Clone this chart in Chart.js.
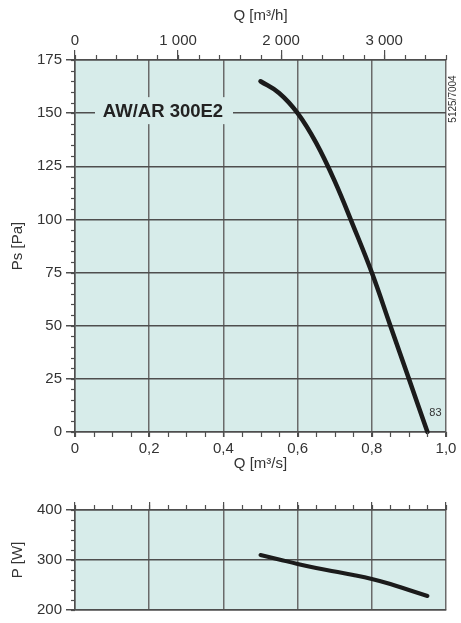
<!DOCTYPE html>
<html>
<head>
<meta charset="utf-8">
<script src="https://cdn.jsdelivr.net/npm/chart.js@4"></script>
<style>
  body { margin: 0; background: #fff; }
  #wrap { position: relative; width: 461px; height: 623px; }
  canvas { position: absolute; left: 0; }
  #psChart { top: 0; }
  #powerChart { top: 480px; }
</style>
</head>
<body>
<div id="wrap">
  <canvas id="psChart" width="461" height="480"></canvas>
  <canvas id="powerChart" width="461" height="143"></canvas>
</div>
<script>
// AW/AR 300E2 fan curve
const flowM3s = [0.5, 0.55, 0.6, 0.65, 0.7, 0.75, 0.8, 0.85, 0.9, 0.95];
const staticPressure = [165, 159.5, 150, 136, 118, 97, 75, 50, 25, 0];
const powerW = [310, 301, 292, 284, 277, 270, 262, 252, 240, 228];

const flowTicksM3s = [0, 0.2, 0.4, 0.6, 0.8, 1.0];
const flowTicksM3h = [0, 1000, 2000, 3000];
const psTicks = [0, 25, 50, 75, 100, 125, 150, 175];
const powerTicks = [200, 300, 400];

const modelName = "AW/AR 300E2";
const curveNote = "83";
const drawingCode = "5125/7004";

const plotBg = "#d7ecea";
const gridDark = "#4e4e4e";
const gridGray = "#6a6a6a";
const textColor = "#333";
const fontFamily = "'Liberation Sans', Arial, sans-serif";

Chart.defaults.font.family = fontFamily;
Chart.defaults.color = textColor;

const toPoints = (xs, ys) => xs.map((x, i) => ({ x: x, y: ys[i] }));
const fixedTicks = arr => scale => { scale.ticks = arr.map(v => ({ value: v })); };
const commaLabel = v => v === 0 ? "0" : v.toFixed(1).replace(".", ",");
const spaceLabel = v => v >= 1000 ? String(v).replace(/\B(?=(\d{3})+(?!\d))/g, " ") : String(v);

// fills plot background and draws short minor ticks along the axes
const plotExtras = {
  id: "plotExtras",
  beforeDraw(chart) {
    const a = chart.chartArea;
    const ctx = chart.ctx;
    ctx.save();
    ctx.fillStyle = plotBg;
    ctx.fillRect(a.left, a.top, a.right - a.left, a.bottom - a.top);
    ctx.restore();
  },
  afterDraw(chart, args, opts) {
    const a = chart.chartArea;
    const ctx = chart.ctx;
    ctx.save();
    ctx.strokeStyle = gridDark;
    ctx.lineWidth = 1.2;
    (opts.minor || []).forEach(m => {
      const sc = chart.scales[m.scale];
      const n = Math.round((sc.max - sc.min) / m.step);
      for (let i = 0; i <= n; i++) {
        const p = Math.round(sc.getPixelForValue(sc.min + i * m.step)) + 0.5;
        ctx.beginPath();
        if (m.side === "left") { ctx.moveTo(a.left - m.len, p); ctx.lineTo(a.left, p); }
        if (m.side === "top") { ctx.moveTo(p, a.top - m.len); ctx.lineTo(p, a.top); }
        if (m.side === "bottom") { ctx.moveTo(p, a.bottom); ctx.lineTo(p, a.bottom + m.len); }
        ctx.stroke();
      }
    });
    if (opts.after) opts.after(chart, ctx);
    ctx.restore();
  }
};

function fixSize(w, h) {
  return scale => {
    if (w !== null) scale.width = w;
    if (h !== null) scale.height = h;
  };
}

const lineStyle = {
  borderColor: "#1b1b1b",
  borderWidth: 4.5,
  borderCapStyle: "round",
  pointRadius: 0,
  fill: false,
  tension: 0.4
};

new Chart(document.getElementById("psChart"), {
  type: "line",
  data: {
    datasets: [Object.assign({ data: toPoints(flowM3s, staticPressure), clip: 3 }, lineStyle)]
  },
  options: {
    responsive: false,
    animation: false,
    devicePixelRatio: 1,
    layout: { padding: { left: 0, right: 15, top: 0, bottom: 0 } },
    plugins: {
      legend: { display: false },
      tooltip: { enabled: false },
      plotExtras: {
        minor: [
          { scale: "y", step: 5, len: 4, side: "left" },
          { scale: "x", step: 0.05, len: 5, side: "bottom" },
          { scale: "xTop", step: 200, len: 5, side: "top" }
        ],
        after(chart, ctx) {
          const a = chart.chartArea;
          const y150 = chart.scales.y.getPixelForValue(150);
          // model name on a plot coloured box over the grid
          ctx.fillStyle = plotBg;
          ctx.fillRect(a.left + 20, y150 - 16, 138, 27);
          ctx.fillStyle = "#222";
          ctx.font = "bold 18.5px " + fontFamily;
          ctx.textAlign = "center";
          ctx.textBaseline = "middle";
          ctx.fillText(modelName, a.left + 88, y150 - 1);
          // rpm note at the curve end
          ctx.font = "11px " + fontFamily;
          ctx.textAlign = "left";
          ctx.fillStyle = textColor;
          ctx.fillText(curveNote, chart.scales.x.getPixelForValue(0.955), chart.scales.y.getPixelForValue(9));
          // drawing code on the right margin
          ctx.save();
          ctx.translate(a.right + 7, a.top + 39);
          ctx.rotate(-Math.PI / 2);
          ctx.font = "10px " + fontFamily;
          ctx.textAlign = "center";
          ctx.fillText(drawingCode, 0, 0);
          ctx.restore();
        }
      }
    },
    scales: {
      x: {
        type: "linear",
        position: "bottom",
        min: 0,
        max: 1,
        afterBuildTicks: fixedTicks(flowTicksM3s),
        afterFit: fixSize(null, 48),
        ticks: { callback: commaLabel, font: { size: 15 }, padding: 3, maxRotation: 0, color: textColor },
        grid: { color: gridGray, lineWidth: 1.5, tickLength: 5, tickColor: gridDark },
        border: { color: gridDark, width: 1.5 },
        title: { display: true, text: "Q [m³/s]", font: { size: 15 }, color: textColor, padding: { top: 0, bottom: 7 } }
      },
      xTop: {
        type: "linear",
        position: "top",
        min: 0,
        max: 3600,
        afterBuildTicks: fixedTicks(flowTicksM3h),
        afterFit: fixSize(null, 60),
        ticks: { callback: spaceLabel, font: { size: 15 }, padding: 0, maxRotation: 0, color: textColor },
        grid: { drawOnChartArea: false, tickLength: 10, color: gridDark, lineWidth: 1.2 },
        border: { color: gridDark, width: 1.5 },
        title: { display: true, text: "Q [m³/h]", font: { size: 15 }, color: textColor, padding: { top: 7, bottom: 0 } }
      },
      y: {
        type: "linear",
        min: 0,
        max: 175,
        afterBuildTicks: fixedTicks(psTicks),
        afterFit: fixSize(75, null),
        ticks: { font: { size: 15 }, padding: 4, color: textColor },
        grid: { color: gridDark, lineWidth: 1.5, tickLength: 9 },
        border: { color: gridDark, width: 1.5 },
        title: { display: true, text: "Ps [Pa]", font: { size: 15 }, color: textColor, padding: { top: 9, bottom: 0 } }
      }
    }
  },
  plugins: [plotExtras]
});

new Chart(document.getElementById("powerChart"), {
  type: "line",
  data: {
    datasets: [Object.assign({ data: toPoints(flowM3s, powerW) }, lineStyle, { borderWidth: 4 })]
  },
  options: {
    responsive: false,
    animation: false,
    devicePixelRatio: 1,
    layout: { padding: { left: 0, right: 15, top: 0, bottom: 0 } },
    plugins: {
      legend: { display: false },
      tooltip: { enabled: false },
      plotExtras: {
        minor: [
          { scale: "y", step: 20, len: 4, side: "left" },
          { scale: "xTop", step: 0.05, len: 5, side: "top" }
        ]
      }
    },
    scales: {
      x: {
        type: "linear",
        position: "bottom",
        min: 0,
        max: 1,
        afterBuildTicks: fixedTicks(flowTicksM3s),
        afterFit: fixSize(null, 9),
        ticks: { display: false },
        grid: { color: gridGray, lineWidth: 1.5, drawTicks: false },
        border: { color: gridDark, width: 1.5 }
      },
      xTop: {
        type: "linear",
        position: "top",
        min: 0,
        max: 1,
        afterBuildTicks: fixedTicks(flowTicksM3s),
        afterFit: fixSize(null, 30),
        ticks: { display: false },
        grid: { drawOnChartArea: false, tickLength: 8, color: gridDark, lineWidth: 1.2 },
        border: { color: gridDark, width: 1.5 }
      },
      y: {
        type: "linear",
        min: 200,
        max: 400,
        afterBuildTicks: fixedTicks(powerTicks),
        afterFit: fixSize(75, null),
        ticks: { font: { size: 15 }, padding: 4, color: textColor },
        grid: { color: gridDark, lineWidth: 1.5, tickLength: 9 },
        border: { color: gridDark, width: 1.5 },
        title: { display: true, text: "P [W]", font: { size: 15 }, color: textColor, padding: { top: 9, bottom: 0 } }
      }
    }
  },
  plugins: [plotExtras]
});
</script>
</body>
</html>
